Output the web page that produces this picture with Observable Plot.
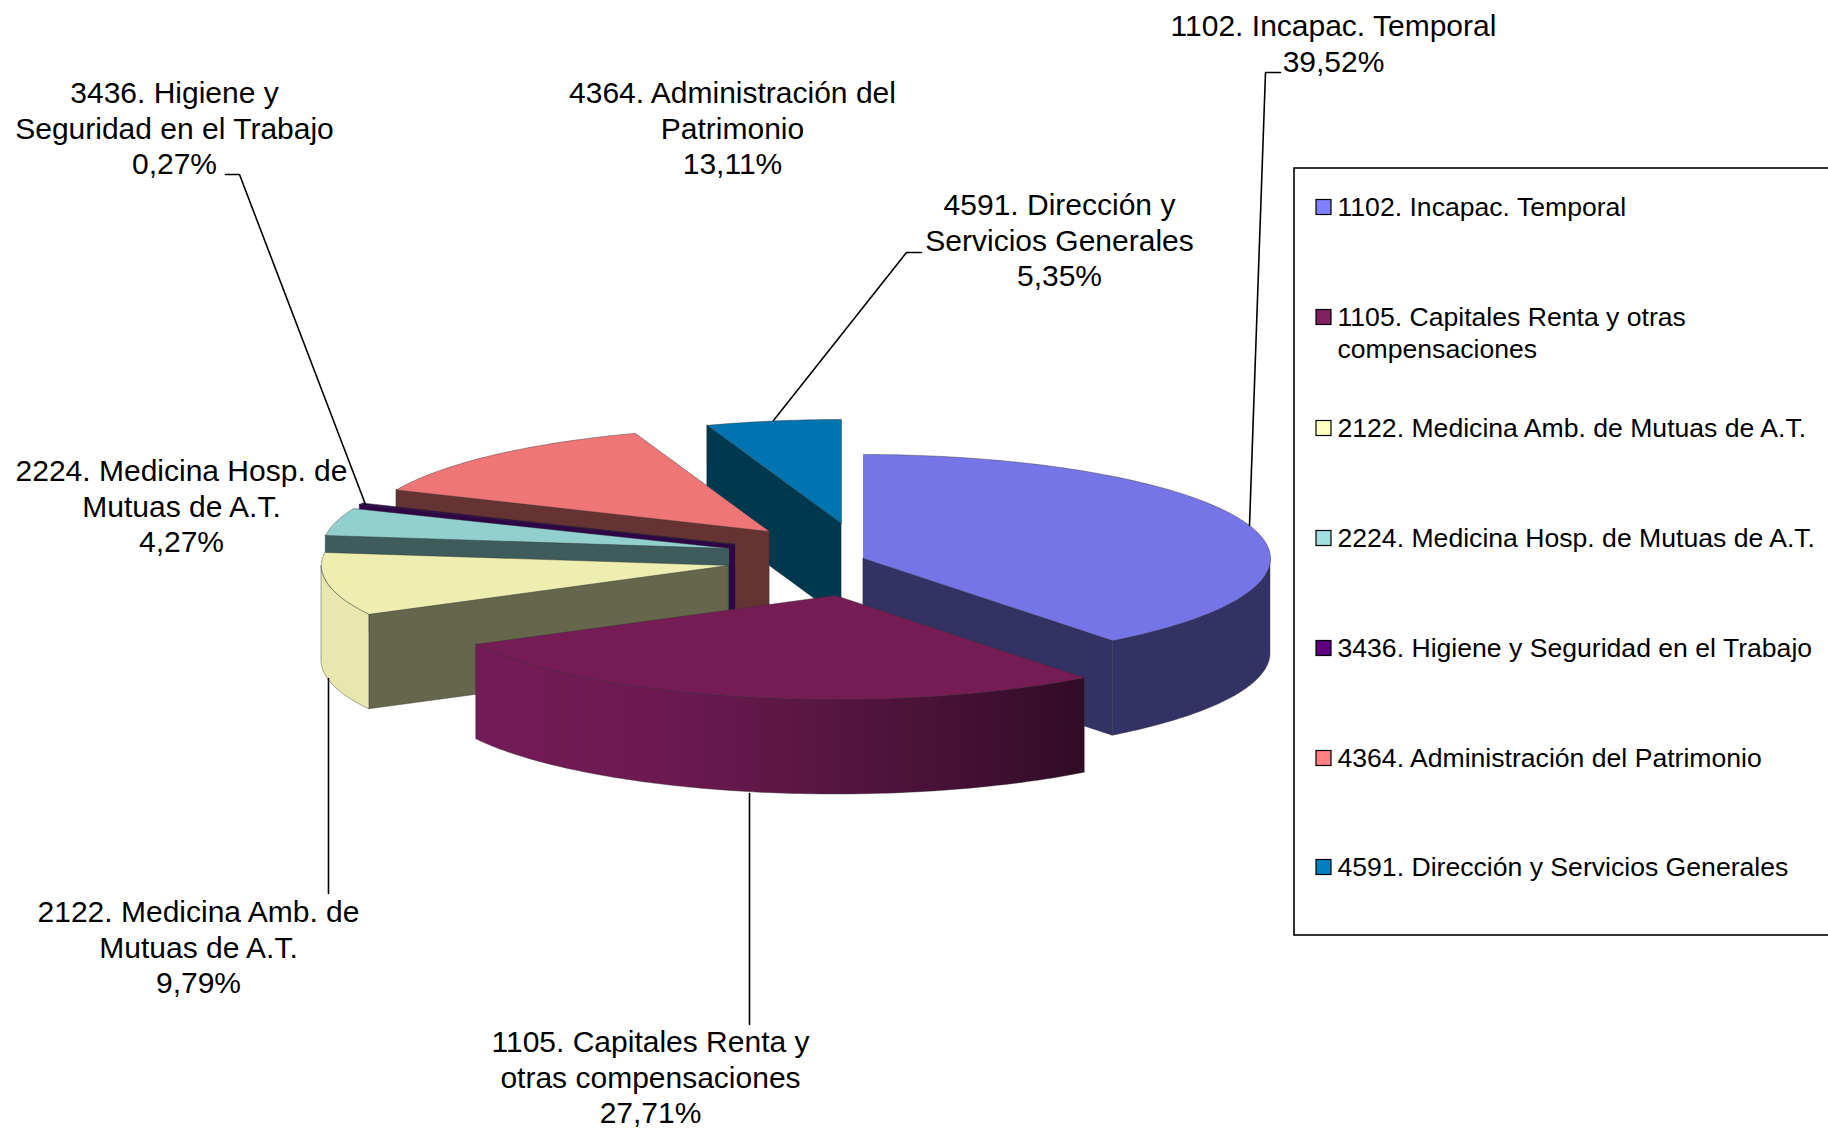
<!DOCTYPE html>
<html>
<head>
<meta charset="utf-8">
<script src="https://cdn.jsdelivr.net/npm/d3@7"></script>
<script src="https://cdn.jsdelivr.net/npm/@observablehq/plot@0.6"></script>
<style>html,body{margin:0;padding:0;background:#fff}svg{display:block}</style>
</head>
<body>
<div id="chart"></div>
<script>
// --- data
const categories = [
  "1102. Incapac. Temporal",
  "1105. Capitales Renta y otras compensaciones",
  "2122. Medicina Amb. de Mutuas de A.T.",
  "2224. Medicina Hosp. de Mutuas de A.T.",
  "3436. Higiene y Seguridad en el Trabajo",
  "4364. Administración del Patrimonio",
  "4591. Dirección y Servicios Generales"
];
const shares = [39.52, 27.71, 9.79, 4.27, 0.27, 13.11, 5.35];
const labelLines = [
  ["1102. Incapac. Temporal"],
  ["1105. Capitales Renta y", "otras compensaciones"],
  ["2122. Medicina Amb. de", "Mutuas de A.T."],
  ["2224. Medicina Hosp. de", "Mutuas de A.T."],
  ["3436. Higiene y", "Seguridad en el Trabajo"],
  ["4364. Administración del", "Patrimonio"],
  ["4591. Dirección y", "Servicios Generales"]
];
const legendLines = [
  ["1102. Incapac. Temporal"],
  ["1105. Capitales Renta y otras", "compensaciones"],
  ["2122. Medicina Amb. de Mutuas de A.T."],
  ["2224. Medicina Hosp. de Mutuas de A.T."],
  ["3436. Higiene y Seguridad en el Trabajo"],
  ["4364. Administración del Patrimonio"],
  ["4591. Dirección y Servicios Generales"]
];

// --- styles
const legendColors = ["#8080ff", "#802060", "#ffffc0", "#a0e0e0", "#600080", "#ff8080", "#0080c0"];
const topColors    = ["#7575e8", "#751c55", "#eeeeb0", "#92d0d0", "#33064f", "#ee7676", "#0074b0"];
const sideColors   = ["#323264", "#741b57", "#66664c", "#3f5c5c", "#2e0547", "#663333", "#00384f"];
const outerColors  = ["#323264", "url(#outerGrad)", "#e8e8ae", "#3f5c5c", "#2e0547", "#663333", "#00384f"];

// --- layout of the exploded 3-D pie
const radiusX = 407, radiusY = 104, depth = 95;
const apexX = [863, 835, 728, 729, 735, 769, 841];
const apexY = [558, 595, 565, 548, 544, 531, 523];
const visibleEdge = ["end", null, "start", "start", "start", "start", "start"];
const drawOrder = [6, 5, 4, 3, 2, 0, 1];

const labelX = [1333, 650, 198, 181, 174, 732, 1059];
const labelY = [26, 1042, 912, 471, 93, 93, 205];
const labelStep = 35.5;
const leaders = [
  [[1280, 72], [1265, 72], [1249, 525]],
  [[749, 793], [749, 1024]],
  [[328, 678], [328, 893]],
  null,
  [[225, 174], [239, 174], [365, 504]],
  null,
  [[921, 252], [906, 252], [773, 420]]
];
const legendBox = {x1: 1294, x2: 1840, y1: 168, y2: 935};
const legendRowY = [207, 317, 428, 538, 648, 758, 867];
const legendTextX = 1337, legendSwatchX = 1316, legendSwatch = 15, legendStep = 31.5;

// --- build geometry
const total = d3.sum(shares);
let run = 0;
const slices = shares.map((v, i) => {
  const a0 = run / total * 2 * Math.PI;
  run += v;
  return {i, a0, a1: run / total * 2 * Math.PI};
});
const pt = (i, a) => ({x: apexX[i] + radiusX * Math.sin(a), y: apexY[i] - radiusY * Math.cos(a)});
const arc = (i, a0, a1) => {
  const n = Math.max(2, Math.ceil((a1 - a0) * 60));
  return d3.range(n + 1).map(k => pt(i, a0 + (a1 - a0) * k / n));
};
const edgeStroke = {stroke: "#333", strokeWidth: 0.6, strokeOpacity: 0.7};
const band = pts => pts.map(p => ({x: p.x, y1: p.y, y2: p.y + depth}));

const marks = [];
// gradient for the banded outer wall of the second slice
marks.push(() => {
  const defs = d3.create("svg:defs");
  const g = defs.append("linearGradient").attr("id", "outerGrad")
    .attr("x1", 0).attr("x2", 1).attr("y1", 0).attr("y2", 0);
  [[0, "#741b57"], [0.3, "#6c1a51"], [0.55, "#5a1644"], [0.8, "#441035"], [1, "#300c25"]]
    .forEach(([o, c]) => g.append("stop").attr("offset", o).attr("stop-color", c));
  return defs.node();
});

for (const i of drawOrder) {
  const {a0, a1} = slices[i];
  const apex = {x: apexX[i], y: apexY[i]};
  // radial wall
  if (visibleEdge[i]) {
    const e = pt(i, visibleEdge[i] === "start" ? a0 : a1);
    marks.push(Plot.area(band([apex, e]), {x1: "x", y1: "y1", y2: "y2", fill: sideColors[i], ...edgeStroke}));
  }
  // outer curved wall: only the part facing the viewer
  const f0 = Math.max(a0, Math.PI / 2), f1 = Math.min(a1, 3 * Math.PI / 2);
  if (f1 > f0) {
    marks.push(Plot.area(band(arc(i, f0, f1)), {x1: "x", y1: "y1", y2: "y2", fill: outerColors[i], ...edgeStroke}));
  }
  // top face
  const top = [apex, ...arc(i, a0, a1), apex];
  marks.push(Plot.line(top, {x: "x", y: "y", fill: topColors[i], ...edgeStroke}));
}

// leader lines
leaders.forEach(l => {
  if (l) marks.push(Plot.line(l.map(([x, y]) => ({x, y})), {x: "x", y: "y", stroke: "#000", strokeWidth: 1.6, strokeLinejoin: "miter"}));
});

// data labels
const labelRows = [];
labelLines.forEach((lines, i) => {
  [...lines, shares[i].toFixed(2).replace(".", ",") + "%"].forEach((t, k) =>
    labelRows.push({t, x: labelX[i], y: labelY[i] + k * labelStep}));
});
marks.push(Plot.text(labelRows, {x: "x", y: "y", text: "t", fontFamily: "Liberation Sans", fontSize: 30, fill: "#000", textAnchor: "middle", lineAnchor: "middle"}));

// legend
marks.push(Plot.rect([legendBox], {x1: "x1", x2: "x2", y1: "y1", y2: "y2", fill: "#fff", stroke: "#000", strokeWidth: 1.6}));
marks.push(Plot.rect(categories.map((c, i) => ({c, y: legendRowY[i]})), {
  x1: () => legendSwatchX, x2: () => legendSwatchX + legendSwatch,
  y1: d => d.y - legendSwatch / 2, y2: d => d.y + legendSwatch / 2,
  fill: "c", stroke: "#000", strokeWidth: 1.2
}));
const legendRows = [];
legendLines.forEach((lines, i) => lines.forEach((t, k) => legendRows.push({t, y: legendRowY[i] + k * legendStep})));
marks.push(Plot.text(legendRows, {x: () => legendTextX, y: "y", text: "t", fontFamily: "Liberation Sans", fontSize: 26.6, fill: "#000", textAnchor: "start", lineAnchor: "middle"}));

const chart = Plot.plot({
  width: 1828, height: 1128, margin: 0,
  style: {background: "#fff"},
  x: {domain: [0, 1828], range: [0, 1828], axis: null},
  y: {domain: [0, 1128], range: [0, 1128], axis: null},
  color: {domain: categories, range: legendColors},
  marks
});
document.getElementById("chart").appendChild(chart);
</script>
</body>
</html>
